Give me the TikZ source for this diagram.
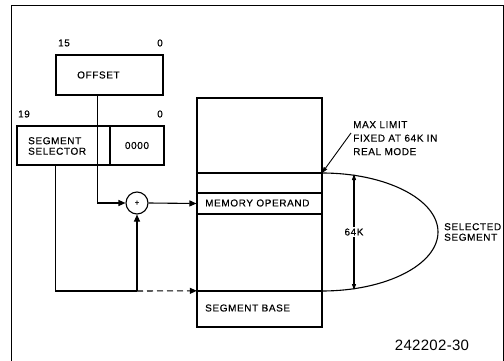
\documentclass[tikz,border=0pt]{standalone}
\usepackage{fontspec}
\newfontfamily\lbl[LetterSpace=6,FakeBold=0.4]{Liberation Sans}
\newfontfamily\fignumfont[LetterSpace=2]{Liberation Sans}
\usetikzlibrary{arrows.meta,calc}
\begin{document}
\begin{tikzpicture}[x=1pt,y=-1pt,
  font=\lbl\fontsize{10}{11.5}\selectfont,
  thickbox/.style={draw,line width=2.2pt,inner sep=0pt},
  thinline/.style={line width=1.1pt},
  tip/.style={-{Triangle[length=7pt,width=6pt]}},
  txt/.style={inner sep=0pt,anchor=west},
  num/.style={inner sep=0pt}
]
\useasboundingbox (0,0) rectangle (504,361);
% frame
\draw[line width=1pt] (11,363) -- (11,6) -- (503,6) -- (503,363);

% offset register
\node[thickbox,minimum width=107pt,minimum height=40pt] (offset) at (109.5,75) {};
\node[txt] (offtxt) at (77,75) {OFFSET};
\node[num] (n15) at (64,43) {15};
\node[num] (n0a) at (160,43) {0};

% segment selector register
\node[thickbox,minimum width=93pt,minimum height=39pt] (sel) at (63.5,145.5) {};
\node[thickbox,minimum width=54pt,minimum height=39pt] (zeros) at (137,145.5) {0000};
\node[txt,align=left] (seltxt) at (28,146) {SEGMENT\\[-1pt]SELECTOR};
\node[num] (n19) at (24,114) {19};
\node[num] (n0b) at (160,114) {0};

% memory
\node[thickbox,minimum width=125pt,minimum height=229pt] (mem) at (259.5,212.5) {};
\node[draw,thinline,inner sep=0pt,minimum width=125pt,minimum height=21pt] (memop) at (259.5,203.5) {};
\node[txt] (memoptxt) at (205,203) {MEMORY OPERAND};
\node[inner sep=0pt,minimum width=125pt,minimum height=36pt] (segbase) at (259.5,309) {};
\node[txt] (segbasetxt) at (205,308) {SEGMENT BASE};
\draw[line width=2.2pt] (mem.west |- 0,173) coordinate (lim) -- (mem.east |- 0,173) coordinate (limr);
\draw[line width=2.2pt] (segbase.north west) -- (segbase.north east);

% adder
\node[draw,thinline,circle,minimum size=22pt,inner sep=0pt,font=\lbl\fontsize{8}{8}\selectfont] (sum) at (137,203) {+};

% connectors
\coordinate (offdrop) at ($(offset.south west)+(43,0)$);
\coordinate (seldrop) at ($(sel.south west)+(40,0)$);
\coordinate (junc) at (137,291);
\draw[thinline,tip] (offdrop) |- (sum.west);
\draw[thinline,tip] (sum.east) -- (memop.west);
\draw[thinline] (seldrop) |- (junc);
\draw[thinline,tip] (junc) -- (sum.south);
\draw[thinline,dashed,dash pattern=on 6pt off 4pt,tip] (junc) -- (segbase.north west);

% selected segment
\coordinate (segtop) at (322,173);
\draw[thinline] (segtop) arc[start angle=-90,end angle=90,x radius=116,y radius=59];
\coordinate (a64t) at (354,174);
\coordinate (a64b) at (354,290);
\draw[thinline,{Triangle[length=6pt,width=4pt]}-{Triangle[length=6pt,width=4pt]}] (a64t) -- (a64b);
\node[fill=white,inner sep=1pt] (k64) at (354,232) {64K};
\node[txt,align=left] (seltx) at (444,232) {SELECTED\\[-1pt]SEGMENT};

% max limit
\node[anchor=north west,align=left,inner sep=0pt] (maxlim) at (353,121) {MAX LIMIT\\[2pt]FIXED AT 64K IN\\[2pt]REAL MODE};
\coordinate (leader) at (351,133);
\draw[line width=0.9pt,-{Triangle[length=6pt,width=4pt]}] (leader) -- (segtop);

% figure number
\node[num,font=\fignumfont\fontsize{15}{16}\selectfont] (fignum) at (432,345) {242202-30};
\end{tikzpicture}
\end{document}
